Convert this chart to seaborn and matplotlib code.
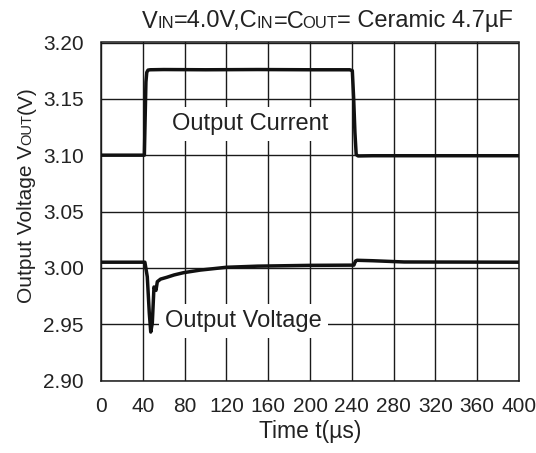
import matplotlib
matplotlib.use("Agg")
import matplotlib.pyplot as plt
import seaborn as sns
import pandas as pd

# Load-transient traces (time in microseconds, voltage in volts)
current_t = [0, 41.5, 42.3, 43.0, 43.8, 45.0, 47.0, 60, 100, 150, 200, 238, 240.5, 241.8, 243.0, 244.2, 246, 260, 300, 400]
current_v = [3.100, 3.100, 3.135, 3.165, 3.1735, 3.1755, 3.1758, 3.1760, 3.1758, 3.1760, 3.1758, 3.1758, 3.1750, 3.150, 3.120, 3.1005, 3.0993, 3.0995, 3.0995, 3.0995]

voltage_t = [0, 42, 44.3, 46.2, 47.6, 49.1, 50.7, 52.6, 53.9, 57, 63, 70, 79, 95, 120, 150, 200, 242, 243.5, 245, 260, 290, 400]
voltage_v = [3.005, 3.005, 2.992, 2.960, 2.943, 2.951, 2.983, 2.980, 2.9877, 2.990, 2.9916, 2.9937, 2.9957, 2.998, 3.0005,
             3.0015, 3.0022, 3.0024, 3.0060, 3.0067, 3.0063, 3.0052, 3.005]

x_ticks = [0, 40, 80, 120, 160, 200, 240, 280, 320, 360, 400]
y_ticks = [2.90, 2.95, 3.00, 3.05, 3.10, 3.15, 3.20]

sns.set_theme(style="white")
plt.rcParams["font.family"] = ["Liberation Sans", "DejaVu Sans"]
plt.rcParams["text.color"] = "#222222"

fig = plt.figure(figsize=(5.36, 4.53), dpi=100)
ax = fig.add_axes([101 / 536, 1 - 380.5 / 453, 418 / 536, 338 / 453])

df_i = pd.DataFrame({"t": current_t, "v": current_v})
df_v = pd.DataFrame({"t": voltage_t, "v": voltage_v})
sns.lineplot(data=df_i, x="t", y="v", ax=ax, color="#111111", linewidth=2.5, zorder=5, sort=False)
sns.lineplot(data=df_v, x="t", y="v", ax=ax, color="#111111", linewidth=2.5, zorder=5, sort=False)

ax.set_xlim(0, 400)
ax.set_ylim(2.90, 3.20)
ax.set_xticks(x_ticks)
ax.set_yticks(y_ticks)
ax.set_yticklabels([f"{v:.2f}" for v in y_ticks])
ax.tick_params(axis="both", length=0, labelsize=15, colors="#222222")
ax.tick_params(axis="x", pad=12)
ax.tick_params(axis="y", pad=12.5)
ax.grid(True, color="#1a1a1a", linewidth=1.0)
ax.set_axisbelow(True)
for s in ax.spines.values():
    s.set_color("#1a1a1a")
    s.set_linewidth(1.1)

ax.set_xlabel("Time t(\u00b5s)", fontsize=16.5, labelpad=3, color="#222222")
ax.set_ylabel("")

box = dict(facecolor="white", edgecolor="none", boxstyle="square,pad=0.25")
ax.text(142.6, 3.1277, "Output Current", fontsize=17, ha="center", va="center",
        bbox=box, zorder=4, color="#222222")
ax.text(136.2, 2.9528, "Output Voltage", fontsize=17, ha="center", va="center",
        bbox=box, zorder=4, color="#222222")

renderer = fig.canvas.get_renderer()


def run_texts(pieces, anchor, fixed, vertical=False, align_end=False):
    """Place text runs of mixed size one after another along a shared baseline.

    Each piece is (text, fontsize, kern_px); kern_px shifts the run toward
    the previous one.
    """
    arts = []
    for txt, size, _ in pieces:
        if vertical:
            t = fig.text(fixed, 0, txt, fontsize=size, rotation=90, rotation_mode="anchor",
                         ha="left", va="baseline", color="#222222")
        else:
            t = fig.text(0, fixed, txt, fontsize=size, ha="left", va="baseline",
                         color="#222222")
        arts.append(t)
    span = fig.bbox.height if vertical else fig.bbox.width
    lengths = []
    for t, (_, _, kern) in zip(arts, pieces):
        bb = t.get_window_extent(renderer)
        ln = bb.height if vertical else bb.width
        lengths.append((ln, kern))
    total = sum(ln - k for ln, k in lengths)
    pos = (anchor - total / span) if align_end else anchor
    for t, (ln, kern) in zip(arts, lengths):
        pos -= kern / span
        if vertical:
            t.set_y(pos)
        else:
            t.set_x(pos)
        pos += ln / span


title_pieces = [("V", 17, 0), ("IN", 12, 0.5), ("=4.0V,C", 17, 0), ("IN", 12, 1.0),
                ("=C", 17, 0), ("OUT", 12, 2.0), ("= Ceramic 4.7\u00b5F", 17, 0)]
ylabel_pieces = [("Output Voltage V", 15, 0), ("OUT", 10.5, 0.5), ("(V)", 15, 0)]

run_texts(title_pieces, 513 / 536, 1 - 27.5 / 453, align_end=True)
run_texts(ylabel_pieces, 1 - 303 / 453, 31.5 / 536, vertical=True)

fig.savefig("out.png", dpi=100)
